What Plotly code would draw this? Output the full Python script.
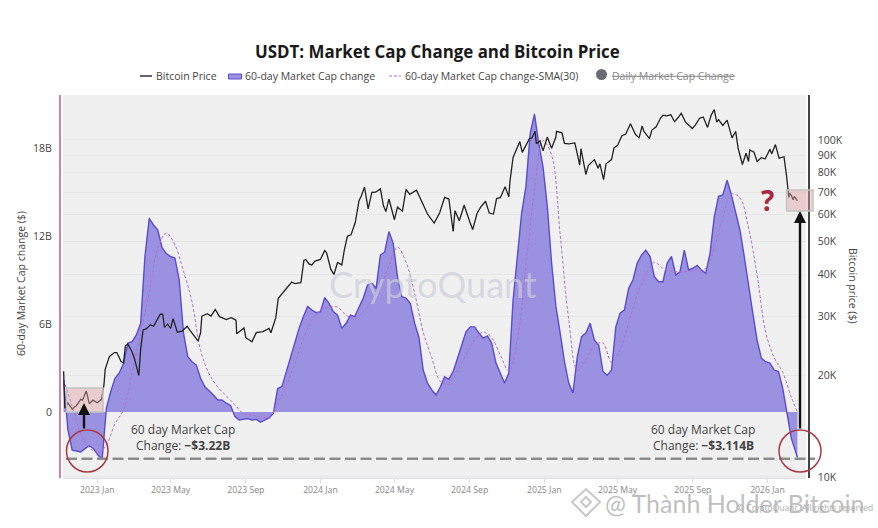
import pandas as pd
import plotly.graph_objects as go

# Bitcoin price, thousands of dollars
BTC_DATES = [
    "2022-11-07", "2022-11-09", "2022-11-14", "2022-11-21", "2022-11-28", "2022-12-05", "2022-12-08", "2022-12-14", "2022-12-19", "2022-12-25",
    "2023-01-01", "2023-01-08", "2023-01-12", "2023-01-14", "2023-01-21", "2023-01-29", "2023-02-02", "2023-02-09", "2023-02-13", "2023-02-16",
    "2023-02-20", "2023-02-27", "2023-03-03", "2023-03-10", "2023-03-13", "2023-03-17", "2023-03-22", "2023-03-29", "2023-04-03", "2023-04-10",
    "2023-04-14", "2023-04-18", "2023-04-21", "2023-04-26", "2023-05-01", "2023-05-05", "2023-05-12", "2023-05-20", "2023-05-28", "2023-06-02",
    "2023-06-10", "2023-06-15", "2023-06-19", "2023-06-21", "2023-06-30", "2023-07-06", "2023-07-13", "2023-07-20", "2023-07-31", "2023-08-08",
    "2023-08-16", "2023-08-17", "2023-08-29", "2023-09-01", "2023-09-11", "2023-09-18", "2023-09-29", "2023-10-09", "2023-10-12", "2023-10-20",
    "2023-10-24", "2023-11-01", "2023-11-09", "2023-11-15", "2023-11-20", "2023-11-30", "2023-12-05", "2023-12-08", "2023-12-13", "2023-12-18",
    "2023-12-23", "2024-01-01", "2024-01-08", "2024-01-11", "2024-01-18", "2024-01-23", "2024-01-29", "2024-02-05", "2024-02-09", "2024-02-14",
    "2024-02-20", "2024-02-27", "2024-03-04", "2024-03-08", "2024-03-13", "2024-03-19", "2024-03-25", "2024-03-31", "2024-04-08", "2024-04-13",
    "2024-04-17", "2024-04-22", "2024-05-01", "2024-05-06", "2024-05-14", "2024-05-20", "2024-05-26", "2024-06-06", "2024-06-13", "2024-06-24",
    "2024-07-05", "2024-07-14", "2024-07-22", "2024-07-29", "2024-08-05", "2024-08-08", "2024-08-15", "2024-08-23", "2024-09-01", "2024-09-06",
    "2024-09-13", "2024-09-19", "2024-09-27", "2024-10-03", "2024-10-10", "2024-10-15", "2024-10-21", "2024-10-29", "2024-11-04", "2024-11-06",
    "2024-11-11", "2024-11-13", "2024-11-22", "2024-11-26", "2024-12-05", "2024-12-08", "2024-12-12", "2024-12-17", "2024-12-19", "2024-12-25",
    "2024-12-30", "2025-01-06", "2025-01-13", "2025-01-20", "2025-01-21", "2025-01-30", "2025-02-03", "2025-02-10", "2025-02-20", "2025-02-24",
    "2025-02-28", "2025-03-02", "2025-03-10", "2025-03-14", "2025-03-24", "2025-03-30", "2025-04-02", "2025-04-08", "2025-04-12", "2025-04-21",
    "2025-04-25", "2025-05-01", "2025-05-08", "2025-05-14", "2025-05-22", "2025-05-30", "2025-06-05", "2025-06-10", "2025-06-13", "2025-06-22",
    "2025-06-26", "2025-07-03", "2025-07-10", "2025-07-14", "2025-07-20", "2025-07-27", "2025-08-02", "2025-08-08", "2025-08-13", "2025-08-20",
    "2025-08-31", "2025-09-05", "2025-09-12", "2025-09-18", "2025-09-25", "2025-10-01", "2025-10-06", "2025-10-10", "2025-10-13", "2025-10-20",
    "2025-10-27", "2025-11-04", "2025-11-10", "2025-11-14", "2025-11-21", "2025-11-27", "2025-12-01", "2025-12-03", "2025-12-10", "2025-12-15",
    "2025-12-22", "2025-12-28", "2026-01-05", "2026-01-08", "2026-01-14", "2026-01-20", "2026-01-28", "2026-02-01", "2026-02-05", "2026-02-06",
    "2026-02-09", "2026-02-12", "2026-02-14", "2026-02-19",
]
BTC_PRICE = [
    20.6, 16.0, 16.6, 15.9, 16.3, 17.0, 16.9, 18.0, 16.5, 16.9,
    16.6, 17.0, 18.8, 20.9, 22.8, 23.4, 23.4, 22.0, 21.8, 24.5,
    24.8, 23.5, 22.4, 20.0, 24.0, 27.3, 27.5, 28.3, 28.0, 29.5,
    30.4, 30.4, 27.8, 28.4, 27.6, 29.5, 26.9, 27.1, 28.0, 27.2,
    25.9, 25.3, 26.8, 30.0, 30.5, 30.0, 31.4, 29.9, 29.3, 29.7,
    29.2, 26.6, 27.7, 25.9, 25.2, 26.8, 27.0, 27.6, 26.8, 29.7,
    33.9, 35.4, 36.7, 37.9, 37.5, 37.7, 44.0, 44.2, 42.9, 42.6,
    43.7, 44.2, 47.0, 46.3, 41.3, 39.9, 43.3, 42.6, 47.1, 51.8,
    52.3, 57.0, 66.0, 68.3, 72.5, 62.5, 69.9, 70.0, 71.6, 63.9,
    61.3, 66.8, 58.0, 63.2, 61.5, 71.4, 69.0, 71.0, 66.7, 60.3,
    56.7, 60.8, 67.6, 66.8, 53.5, 61.7, 57.6, 64.0, 57.3, 54.2,
    60.5, 63.2, 65.8, 60.7, 60.3, 67.0, 67.4, 72.7, 67.8, 75.6,
    88.7, 90.4, 98.9, 91.9, 98.8, 101.1, 101.4, 106.1, 97.5, 99.4,
    92.8, 102.1, 94.5, 102.0, 106.1, 105.0, 97.7, 97.4, 98.0, 91.5,
    84.3, 94.2, 79.0, 84.0, 87.5, 82.5, 85.0, 76.3, 85.0, 87.5,
    94.7, 96.5, 103.0, 104.0, 111.7, 103.9, 101.5, 110.0, 106.0, 101.0,
    107.0, 109.5, 116.0, 118.5, 117.9, 118.8, 113.3, 116.6, 120.0, 113.0,
    108.2, 110.7, 116.0, 117.0, 109.0, 118.6, 123.0, 113.0, 115.0, 110.5,
    114.5, 101.5, 106.0, 94.5, 84.6, 91.3, 86.3, 93.4, 92.0, 86.4,
    88.6, 87.8, 93.8, 91.0, 96.9, 88.3, 89.2, 78.7, 67.5, 69.5,
    68.5, 66.5, 68.0, 66.0,
]

# 60-day market cap change, billions, one value a week and the last reading
CAP_DATES = list(pd.date_range("2022-11-07", "2026-02-16", freq="7D")) + [pd.Timestamp("2026-02-19")]
CAP_CHANGE = [
    2.2, -1.2, -2.6, -2.66, -2.73, -2.5, -2.3, -2.5, -2.93, -3.22,
    0.27, 1.38, 2.3, 2.66, 3.3, 4.7, 4.8, 5.25, 6.05, 10.6,
    13.2, 12.75, 12.4, 11.2, 10.8, 10.6, 10.5, 9.0, 5.4, 3.77,
    3.43, 3.2, 2.3, 1.72, 1.45, 1.16, 0.82, 0.82, 0.6, 0.45,
    -0.3, -0.55, -0.5, -0.45, -0.55, -0.5, -0.7, -0.55, -0.4, -0.1,
    1.6, 1.73, 2.75, 3.77, 4.7, 5.7, 6.5, 7.2, 6.95, 6.77,
    6.84, 7.8, 7.4, 6.84, 6.6, 5.7, 6.05, 6.6, 6.5, 7.18,
    7.77, 8.66, 8.77, 8.43, 10.7, 10.9, 12.3, 11.5, 9.2, 7.86,
    7.76, 7.4, 6.05, 5.1, 2.86, 1.97, 1.5, 1.16, 1.7, 2.4,
    2.23, 2.75, 3.67, 4.45, 5.47, 5.8, 5.8, 5.38, 5.03, 5.18,
    4.7, 3.33, 2.65, 1.97, 2.66, 7.63, 10.6, 13.56, 15.36, 19.0,
    20.3, 18.3, 16.7, 14.0, 10.15, 7.2, 5.38, 3.43, 1.97, 1.3,
    3.77, 5.13, 5.38, 6.05, 4.9, 4.57, 2.75, 2.5, 2.86, 5.8,
    6.74, 6.95, 8.43, 9.0, 10.15, 10.7, 11.04, 10.6, 9.22, 8.88,
    8.88, 10.15, 10.6, 9.34, 9.56, 11.04, 9.68, 9.8, 10.0, 9.68,
    9.46, 10.8, 13.3, 14.7, 14.8, 15.8, 14.8, 13.55, 12.4, 10.6,
    8.54, 6.74, 4.9, 3.67, 3.43, 3.33, 2.86, 2.75, 1.6, 0.0,
    -1.8, -2.7, -3.114,
]

# 30-day average of the change, read every two weeks
SMA_DATES = list(pd.date_range("2022-11-07", "2026-02-09", freq="14D")) + [pd.Timestamp("2026-02-19")]
SMA_CHANGE = [
    2.2, 0.4, -1.5, -2.4, -2.8, -2.25, -0.8, 0.15, 2.7, 5.45,
    8.1, 11.2, 12.2, 11.4, 9.6, 7.5, 4.2, 2.6, 1.7, 1.1,
    0.5, -0.1, -0.2, -0.35, -0.35, 0.6, 1.8, 3.3, 5.0, 6.3,
    6.9, 7.15, 7.15, 6.6, 6.35, 6.8, 7.6, 8.5, 9.95, 11.25,
    10.2, 8.1, 5.45, 3.7, 2.1, 1.9, 2.8, 3.9, 4.9, 5.45,
    5.05, 3.9, 2.8, 4.9, 10.0, 15.1, 18.5, 17.5, 12.1, 6.3,
    2.85, 3.55, 4.55, 4.7, 3.4, 4.25, 6.05, 8.0, 9.35, 10.2,
    9.8, 9.6, 9.55, 9.6, 9.7, 9.8, 11.2, 13.3, 14.85, 14.6,
    12.55, 9.35, 5.45, 3.7, 2.7, 1.0, 0.0,
]

CAP_TICKS = [0, 6, 12, 18]
CAP_LABELS = ["0", "6B", "12B", "18B"]
BTC_TICKS = [10, 20, 30, 40, 50, 60, 70, 80, 90, 100]
BTC_LABELS = ["10K", "20K", "30K", "40K", "50K", "60K", "70K", "80K", "90K", "100K"]

FONT = "Open Sans"
TEXT = "#444444"
PURPLE = "#5a4ccf"
PINK_BOX = "rgba(222,160,165,0.45)"
RED = "#a83a45"

# plot box in page pixels, everything drawn by hand below is placed with these
LEFT, RIGHT, TOP, BOTTOM = 60, 809, 95, 478


def X(px):
    return (px - LEFT) / (RIGHT - LEFT)


def Y(py):
    return (BOTTOM - py) / (BOTTOM - TOP)


def note(px, py, text, size=10.5, color=TEXT, anchor="left", family=FONT, **kw):
    return dict(x=X(px), y=Y(py), xref="paper", yref="paper", text=text, showarrow=False,
                xanchor=anchor, yanchor="middle", font=dict(size=size, color=color, family=family), **kw)


def arrow(px, y_head, y_tail):
    return dict(x=X(px), y=Y(y_head), xref="paper", yref="paper", ax=0, ay=y_tail - y_head, text="",
                showarrow=True, arrowhead=2, arrowsize=1, arrowwidth=2.4, arrowcolor="#111111")


def box(x0, y0, x1, y1, **kw):
    return dict(type="rect", xref="paper", yref="paper", x0=X(x0), x1=X(x1), y0=Y(y0), y1=Y(y1), **kw)


def ring(x0, y0, x1, y1):
    return dict(type="circle", xref="paper", yref="paper", x0=X(x0), x1=X(x1), y0=Y(y0), y1=Y(y1),
                line=dict(color=RED, width=1.5))


def stroke(x0, y0, x1, y1, color, width, dash="solid"):
    return dict(type="line", xref="paper", yref="paper", x0=X(x0), x1=X(x1), y0=Y(y0), y1=Y(y1),
                line=dict(color=color, width=width, dash=dash))


fig = go.Figure()
fig.add_trace(go.Scatter(x=CAP_DATES, y=CAP_CHANGE, mode="lines", fill="tozeroy", name="60-day Market Cap change",
                         line=dict(color=PURPLE, width=1.4), fillcolor="rgba(155,145,225,1)", yaxis="y"))
fig.add_trace(go.Scatter(x=SMA_DATES, y=SMA_CHANGE, mode="lines", name="60-day Market Cap change-SMA(30)",
                         line=dict(color="#b06fd0", width=1, dash="3px,2px", shape="spline"), yaxis="y"))
fig.add_trace(go.Scatter(x=BTC_DATES, y=BTC_PRICE, mode="lines", name="Bitcoin Price",
                         line=dict(color="#222222", width=1.3), yaxis="y2"))

shapes = [
    box(66.5, 388, 103, 412, fillcolor=PINK_BOX, line=dict(color="#c4c4c4", width=1.5)),
    box(786.5, 190, 813, 211, fillcolor=PINK_BOX, line=dict(color="#c4c4c4", width=1.5)),
    stroke(66, 458.7, 815, 458.7, "#8c8c8c", 2.5, "11px,4.5px"),
    ring(66.5, 430, 108, 472),
    ring(779, 430, 821, 472),
    # legend keys
    stroke(140, 76, 152, 76, "#222222", 1.4),
    box(228.5, 74, 241.5, 79, fillcolor="rgba(155,145,225,1)", line=dict(color=PURPLE, width=1)),
    stroke(389, 76, 401, 76, "#b06fd0", 1, "3px,2px"),
    dict(type="circle", xref="paper", yref="paper", x0=X(596), x1=X(607), y0=Y(69), y1=Y(80),
         fillcolor="#6b6b78", line=dict(width=0)),
    # binance mark behind the footer text
    dict(type="path", xref="paper", yref="paper", line=dict(color="#c8c8c8", width=2),
         path=f"M {X(572)} {Y(502)} L {X(586)} {Y(489)} L {X(600)} {Y(502)} L {X(586)} {Y(516)} Z "
              f"M {X(581)} {Y(502)} L {X(586)} {Y(497)} L {X(591)} {Y(502)} L {X(586)} {Y(507)} Z"),
]

annotations = [
    note(437.5, 51, "<b>USDT: Market Cap Change and Bitcoin Price</b>", size=16.9, color="#1a1a1a", anchor="center"),
    note(154, 75.5, "Bitcoin Price"),
    note(243, 75.5, "60-day Market Cap change"),
    note(403, 75.5, "60-day Market Cap change-SMA(30)"),
    note(609.5, 75.5, "<s>Daily Market Cap Change</s>", color="#8a8a8a"),
    note(21, 284, "60-day Market Cap change ($)", textangle=-90, anchor="center"),
    note(853, 286, "Bitcoin price ($)", textangle=90, anchor="center"),
    note(433, 284, "CryptoQuant", size=36, color="rgba(205,205,218,0.7)", anchor="center", family="Lato"),
    note(183, 429.5, "60 day Market Cap", size=12, anchor="center"),
    note(183, 445, "Change: <b>−$3.22B</b>", size=12, anchor="center"),
    note(703, 429.5, "60 day Market Cap", size=12, anchor="center"),
    note(703, 445, "Change: <b>−$3.114B</b>", size=12, anchor="center"),
    note(767.5, 200, "<b>?</b>", size=28, color="#a8293f", anchor="center"),
    arrow(84, 403, 430),
    arrow(800, 211, 430),
    note(805, 507, "© CryptoQuant. All rights reserved", size=8.5, color="#b0b0b0", anchor="center"),
    note(603, 503, "@ Thành Holder Bitcoin", size=25, color="rgba(170,170,170,0.75)", family="Lato"),
]

fig.update_layout(
    width=878,
    height=528,
    autosize=False,
    margin=dict(l=LEFT, r=878 - RIGHT, t=TOP, b=528 - BOTTOM, pad=0),
    paper_bgcolor="white",
    plot_bgcolor="#f0f0f0",
    showlegend=False,
    font=dict(family=FONT, size=10.5, color=TEXT),
    xaxis=dict(
        domain=[X(63), X(806)],
        type="date",
        range=["2022-11-06", "2026-03-05"],
        tick0="2023-01-01",
        dtick="M4",
        tickformat="%Y %b",
        showgrid=False,
        zeroline=False,
        ticks="outside",
        ticklen=4,
        tickcolor="#dddddd",
        tickfont=dict(size=8.7, color="#888888"),
        showline=True,
        linecolor="#dcdce4",
    ),
    yaxis=dict(
        anchor="free",
        position=0,
        range=[-4.5, 21.61],
        tickvals=CAP_TICKS,
        ticktext=CAP_LABELS,
        tickfont=dict(size=10.5, color=TEXT),
        showgrid=False,
        zeroline=False,
        showline=True,
        linecolor="#d87fa5",
        linewidth=2,
        ticks="outside",
        ticklen=5,
        tickcolor="rgba(0,0,0,0)",
    ),
    yaxis2=dict(
        anchor="free",
        position=1,
        overlaying="y",
        side="right",
        type="log",
        range=[0.997, 2.1335],
        tickvals=BTC_TICKS,
        ticktext=BTC_LABELS,
        tickfont=dict(size=10.5, color=TEXT),
        gridcolor="#e6e6e6",
        zeroline=False,
        showline=True,
        linecolor="#444444",
        linewidth=1.5,
        ticks="outside",
        ticklen=6,
        tickcolor="rgba(0,0,0,0)",
    ),
    shapes=shapes,
    annotations=annotations,
)

# the page margin would push the fixed-size chart off the window
fig.write_html("out.html", config={"displayModeBar": False}, post_script="document.body.style.margin='0';")
